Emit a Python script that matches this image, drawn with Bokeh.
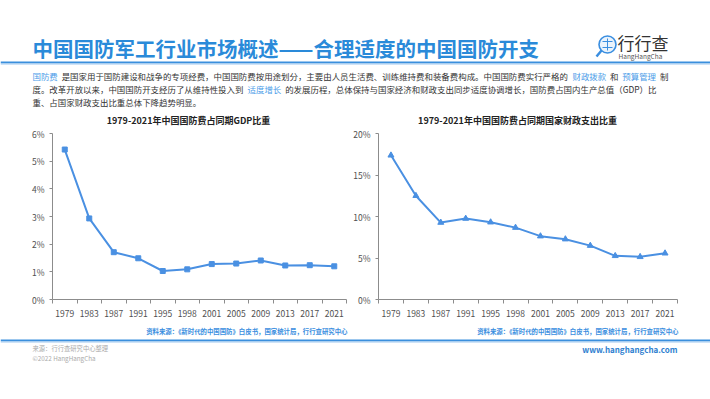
from bokeh.plotting import figure
from bokeh.models import Range1d, FixedTicker, PrintfTickFormatter
from bokeh.layouts import column, row
from bokeh.embed import file_html
from bokeh.resources import INLINE
from bokeh.core.properties import value

# ---------------- data ----------------
years = ["1979", "1983", "1987", "1991", "1995", "1998", "2001", "2005", "2009", "2013", "2017", "2021"]
gdp_share = [5.42, 2.93, 1.71, 1.49, 1.03, 1.09, 1.28, 1.30, 1.41, 1.23, 1.24, 1.20]
fiscal_share = [17.37, 12.50, 9.27, 9.75, 9.31, 8.66, 7.63, 7.27, 6.49, 5.26, 5.14, 5.57]
gdp_ticks = [0, 1, 2, 3, 4, 5, 6]
fiscal_ticks = [0, 5, 10, 15, 20]

page_title = "中国国防军工行业市场概述——合理适度的中国国防开支"
left_title = "1979-2021年中国国防费占同期GDP比重"
right_title = "1979-2021年中国国防费占同期国家财政支出比重"
source_note = "资料来源：《新时代的中国国防》白皮书，国家统计局，行行查研究中心"
para_lines = [
    [("国防费", "hl"),
     ("是国家用于国防建设和战争的专项经费，中国国防费按用途划分，主要由人员生活费、训练维持费和装备费构成。中国国防费实行严格的", "tx"),
     ("财政拨款", "hl"), ("和", "tx"), ("预算管理", "hl"), ("制", "tx")],
    [("度。改革开放以来，中国国防开支经历了从维持性投入到", "tx"), ("适度增长", "hl"),
     ("的发展历程，总体保持与国家经济和财政支出同步适度协调增长，国防费占国内生产总值（GDP）比", "tx")],
    [("重、占国家财政支出比重总体下降趋势明显。", "tx")],
]

CJK = value("Noto Sans CJK SC")
BLUE = "#2a8ad9"
LINE = "#4a90e2"
HL = "#4c9de8"
TX = "#333333"
W = 710


def canvas(w, h, x0, x1, y0, y1):
    f = figure(width=w, height=h, x_range=Range1d(x0, x1), y_range=Range1d(y1, y0),
               output_backend="svg", toolbar_location=None, min_border=0)
    f.axis.visible = False
    f.grid.visible = False
    f.outline_line_color = None
    f.background_fill_color = "white"
    f.border_fill_color = "white"
    return f


def txt(f, x, y, s, size, color, align="left", bold=False):
    f.text(x=[x], y=[y], text=[s], text_font=CJK, text_font_size=f"{size}px",
           text_color=color, text_align=align, text_baseline="middle",
           text_font_style="bold" if bold else "normal")


def seg_width(s, fs):
    w = 0
    for c in s:
        if ord(c) > 0x2E80:
            w += fs
        elif c == " ":
            w += 0.25 * fs
        else:
            w += 0.62 * fs
    return w


# ---------------- header ----------------
header = canvas(W, 127, 0, W, 0, 127)
txt(header, 32, 47, page_title, 20.5, BLUE, bold=True)
# logo
header.scatter(x=[607], y=[44], marker="circle", size=17, fill_color="#eaf3fc",
               line_color="#3a8ee0", line_width=1.6)
header.line(x=[601, 596], y=[50, 56], line_color="#3a8ee0", line_width=2.5)
header.line(x=[602, 612], y=[41, 41], line_color="#3a8ee0", line_width=1)
header.line(x=[602, 612], y=[47, 47], line_color="#3a8ee0", line_width=1)
header.line(x=[607, 607], y=[38, 50], line_color="#3a8ee0", line_width=1)
txt(header, 617, 42, "行行查", 17, "#333333")
txt(header, 618, 55, "HangHangCha", 6.5, "#555555")
header.line(x=[0, W], y=[62, 62], line_color="#3b8fdd", line_width=2)
header.line(x=[0, W], y=[63.8, 63.8], line_color="#cfe3f7", line_width=1.2)

fs = 8.45
for i, segs in enumerate(para_lines):
    x = 32
    y = 75 + 13 * i
    for s, kind in segs:
        txt(header, x, y, s, fs, HL if kind == "hl" else TX)
        x += seg_width(s, fs) + 0.45 * fs

txt(header, 188, 120, left_title, 9, "#222222", align="center", bold=True)
txt(header, 517, 120, right_title, 9, "#222222", align="center", bold=True)


# ---------------- charts ----------------
def chart(w, bl, br, bt, vals, yticks, marker, msize):
    n = len(years)
    xs = list(range(n))
    f = figure(width=w, height=195, output_backend="svg", toolbar_location=None,
               x_range=Range1d(-0.5, n - 0.5), y_range=Range1d(yticks[0], yticks[-1]),
               min_border_left=bl, min_border_right=br, min_border_top=bt, min_border_bottom=23)
    f.grid.visible = False
    f.outline_line_color = None
    f.background_fill_color = "white"
    f.border_fill_color = "white"
    f.line(xs, vals, line_color=LINE, line_width=2)
    f.scatter(xs, vals, marker=marker, size=msize, fill_color=LINE, line_color=LINE)

    xa = f.xaxis[0]
    xa.ticker = FixedTicker(ticks=xs, minor_ticks=[i - 0.5 for i in range(n + 1)])
    xa.major_label_overrides = {i: y for i, y in enumerate(years)}
    xa.major_tick_out = 0
    xa.major_tick_in = 0
    xa.minor_tick_out = 4
    xa.minor_tick_in = 0
    xa.minor_tick_line_color = "#8c8c8c"
    xa.major_label_standoff = 6
    ya = f.yaxis[0]
    ya.ticker = FixedTicker(ticks=yticks)
    ya.formatter = PrintfTickFormatter(format="%d%%")
    ya.major_tick_out = 3
    ya.major_tick_in = 0
    ya.minor_tick_out = 0
    ya.minor_tick_in = 0
    ya.major_label_standoff = 5
    for a in (xa, ya):
        a.axis_line_color = "#8c8c8c"
        a.major_tick_line_color = "#8c8c8c"
        a.major_label_text_font = "Noto Sans CJK SC"
        a.major_label_text_font_size = "8.5px"
        a.major_label_text_color = "#505050"
    return f


left = chart(350, 52, 4, 4, gdp_share, gdp_ticks, "square", 5)
right = chart(360, 27, 33, 6, fiscal_share, fiscal_ticks, "triangle", 6)

# ---------------- footer ----------------
footer = canvas(W, 77, 0, W, 322, 399)
txt(footer, 347, 331, source_note, 6.4, "#3a8ee0", align="right", bold=True)
txt(footer, 678, 331, source_note, 6.4, "#3a8ee0", align="right", bold=True)
footer.line(x=[0, W], y=[340, 340], line_color="#3b8fdd", line_width=2)
footer.line(x=[0, W], y=[341.8, 341.8], line_color="#cfe3f7", line_width=1.2)
txt(footer, 32, 348, "来源：行行查研究中心整理", 6.3, "#aaaaaa")
txt(footer, 32, 358, "©2022 HangHangCha", 6.3, "#aaaaaa")
txt(footer, 677, 349, "www.hanghangcha.com", 8, "#2f7fd0", align="right", bold=True)

p = column(header, row(left, right), footer)
open("out.html", "w").write(file_html(p, INLINE))
